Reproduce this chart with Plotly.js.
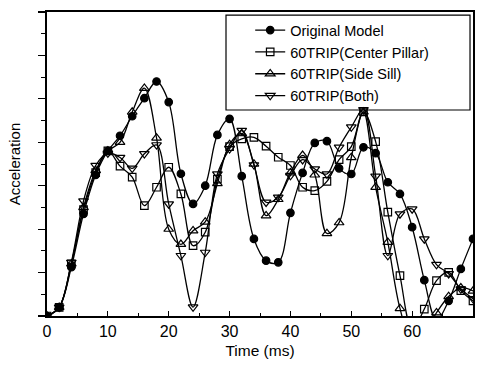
<!DOCTYPE html>
<html><head><meta charset="utf-8">
<script src="https://cdn.plot.ly/plotly-3.0.1.min.js"></script>
<style>html,body{margin:0;padding:0;background:#fff}#chart{width:481px;height:367px}</style>
</head><body><div id="chart"></div>
<script>
const timeMs = [0,2,4,6,8,10,12,14,16,18,20,22,24,26,28,30,32,34,36,38,40,42,44,46,48,50,52,54,56,58,60,62,64,66,68,70];
const originalModel = [0,0.4,2.25,4.7,6.5,7.6,8.3,9.2,10.03,10.8,9.85,6.55,5.16,6.0,8.34,9.08,6.44,3.55,2.55,2.47,4.75,6.59,7.97,8.05,6.8,6.54,7.77,7.5,6.16,5.62,4.09,1.65,-0.2,0.7,2.17,3.55];
const centerPillar = [0,0.4,2.4,4.9,6.6,7.6,6.9,6.4,5.08,5.93,6.85,5.62,3.24,3.86,6.3,7.8,8.16,8.23,7.82,7.31,6.93,5.93,5.77,6.2,7.2,7.8,9.4,8.03,4.78,1.86,-0.6,0.32,1.63,2.01,1.17,0.7];
const sideSill = [0,0.4,2.4,5.0,6.7,7.6,8.0,9.39,10.49,8.2,4.0,3.3,3.93,4.33,6.1,7.9,8.4,7.0,4.62,5.37,6.6,7.4,6.5,3.8,4.3,7.3,9.4,5.93,3.4,0.35,-1.2,-0.8,0.15,0.9,1.3,1.15];
const bothTrip = [0,0.4,2.47,5.3,6.93,7.5,7.3,6.8,7.47,7.88,5.16,2.78,0.41,2.93,6.54,7.7,8.54,6.96,5.24,5.47,6.47,7.2,6.77,6.54,7.77,8.7,9.5,6.44,2.78,4.7,4.93,3.55,2.37,1.95,1.24,0.8];
const seriesNames = ["Original Model","60TRIP(Center Pillar)","60TRIP(Side Sill)","60TRIP(Both)"];
const xTickValues = [0,10,20,30,40,50,60,70];

const seriesData = [originalModel, centerPillar, sideSill, bothTrip];
const symbols = ["circle","square-open","triangle-up-open","triangle-down-open"];
const sizes = [7.5,7.5,8.5,8.5];
const FONT = "Liberation Sans, Arial, sans-serif";

const traces = seriesData.map((ys, i) => ({
  type: "scatter",
  mode: "lines+markers",
  name: seriesNames[i],
  x: timeMs,
  y: ys,
  line: {color: "#000", width: 1.3, shape: "spline", smoothing: 1},
  marker: {symbol: symbols[i], size: sizes[i], color: "#000", line: {color: "#000", width: 1.2}}
}));

const layout = {
  width: 481, height: 367,
  margin: {l: 47, r: 8, t: 12, b: 51},
  paper_bgcolor: "#fff", plot_bgcolor: "#fff",
  font: {family: FONT, size: 15, color: "#000"},
  showlegend: true,
  legend: {
    x: 0.477, y: 0.993, xanchor: "left", yanchor: "top",
    bgcolor: "rgba(0,0,0,0)", borderwidth: 0,
    font: {family: FONT, size: 14.5, color: "#000"},
    tracegroupgap: 0
  },
  xaxis: {
    range: [0, 70], tickvals: xTickValues, ticktext: xTickValues.map(String),
    ticks: "inside", ticklen: 5, tickwidth: 1.2, tickcolor: "#000",
    minor: {dtick: 5, tick0: 0, ticks: "inside", ticklen: 3, tickcolor: "#000", tickwidth: 1},
    showline: true, linecolor: "#000", linewidth: 2, mirror: true,
    showgrid: false, zeroline: false,
    tickfont: {family: FONT, size: 16, color: "#000"},
    title: {text: "Time (ms)", font: {family: FONT, size: 15.5, color: "#000"}, standoff: 6}
  },
  yaxis: {
    range: [0, 14], dtick: 2, tick0: 0, showticklabels: false,
    ticks: "outside", ticklen: 7, tickwidth: 1.2, tickcolor: "#000",
    minor: {dtick: 1, tick0: 0, ticks: "outside", ticklen: 4, tickcolor: "#000", tickwidth: 1},
    showline: true, linecolor: "#000", linewidth: 2, mirror: true,
    showgrid: false, zeroline: false,
    title: {text: "Acceleration", font: {family: FONT, size: 15, color: "#000"}, standoff: 14}
  },
  shapes: [{
    type: "rect", xref: "paper", yref: "paper",
    x0: 0.4202, x1: 0.993, y0: 0.6776, y1: 0.990,
    line: {color: "#000", width: 1.2}, fillcolor: "rgba(0,0,0,0)", layer: "above"
  }]
};

Plotly.newPlot("chart", traces, layout, {displayModeBar: false, staticPlot: true});
</script>
</body></html>
